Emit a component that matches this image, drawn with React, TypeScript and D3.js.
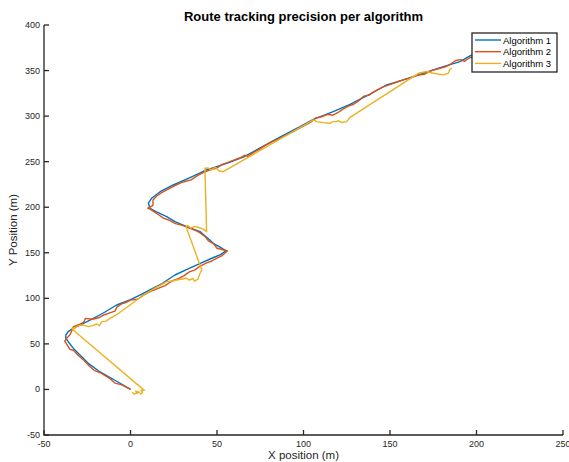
import React from 'react'
import * as d3 from 'd3'

// route samples per algorithm, [x, y] in metres
const algorithm1: [number, number][] = [
  [0, 0], [-8, 9], [-17.6, 19.2], [-24, 28], [-29.2, 37.8], [-33, 45], [-36, 52.4], [-37.5, 57],
  [-37.3, 60], [-36, 63.4], [-33, 67.5], [-29.2, 70.7], [-23.4, 76.2], [-15.7, 83.9], [-8, 92.7],
  [-0.3, 98.2], [6, 104], [12, 110], [18, 116], [25.7, 125.6], [33, 132], [40, 138], [47, 144],
  [52, 148], [55.2, 152], [52, 156], [47.9, 160.4], [44, 167], [40.2, 173.2], [32.5, 178.7],
  [26, 184], [20.9, 189.6], [15, 195], [11.3, 198.8], [10.3, 204.3], [12.2, 209.8], [17.1, 217],
  [24.7, 224.4], [34.4, 232.5], [44, 240.9], [55.6, 248.2], [65.2, 255], [76.8, 267], [86.4, 277],
  [98, 288.4], [105.7, 296.5], [117.2, 304.9], [126.9, 313], [138.4, 324], [148.1, 334.2],
  [157.7, 339.7], [169.3, 347], [180.8, 354.3], [190.5, 359.8], [196.2, 366], [200, 369],
]

const algorithm2: [number, number][] = [
  [0, 0], [-5, 5], [-9, 7], [-12, 12], [-17, 18], [-21, 21], [-24, 26], [-27, 32], [-30, 37],
  [-33, 43], [-35, 44], [-36, 47], [-38, 53], [-37, 56], [-35, 60], [-34, 64], [-33, 69], [-30, 71],
  [-27, 74], [-26, 78], [-22, 77], [-18, 79], [-15, 82], [-12, 84], [-9, 86], [-8, 90], [-5, 94],
  [-2, 96], [0, 98], [4, 99], [8, 104], [12, 108], [16, 111], [20, 114], [24, 119], [28, 122],
  [31, 125], [34, 129], [37, 131], [40, 135], [44, 139], [47, 141], [50, 144], [53, 147], [56, 152],
  [54, 153], [50, 155], [48, 160], [45, 163], [43, 168], [40, 172], [37, 175], [34, 177], [30, 180],
  [26, 182], [22, 186], [19, 188], [16, 192], [12, 197], [10, 199], [13, 202], [13, 208], [15, 212],
  [18, 216], [21, 219], [24, 222], [28, 226], [31, 228], [35, 230], [39, 235], [42, 238], [46, 241],
  [50, 243], [53, 247], [56, 249], [60, 252], [63, 254], [66, 257], [68, 256], [71, 260], [75, 264],
  [78, 268], [82, 272], [86, 275], [90, 279], [94, 283], [98, 287], [101, 290], [104, 293],
  [107, 298], [110, 299], [114, 302], [117, 301], [120, 304], [123, 308], [126, 311], [129, 313],
  [132, 317], [135, 322], [138, 323], [140, 326], [143, 329], [146, 332], [149, 334], [152, 336],
  [155, 338], [158, 340], [162, 342], [166, 345], [170, 346], [174, 350], [178, 352], [182, 354],
  [185, 357], [188, 361], [191, 362], [193, 360], [196, 364], [200, 366],
]

const algorithm3: [number, number][] = [
  [1, -3], [2, -5], [4, -4], [3, -2], [5, -3], [6, -5], [7, -3], [6, -1], [8, -1],
  [-33, 65], [-34, 67], [-32, 68], [-33, 66], [-31, 69], [-29, 70.7], [-26, 70], [-24.4, 68.9],
  [-22, 70], [-19.5, 71.8], [-18, 70], [-16.6, 74.4], [-14, 75], [-11.8, 78.1], [-8, 82],
  [-4.2, 87.2], [0, 93], [3.6, 98.2], [8, 104], [13, 110], [18, 115], [20.9, 118.3], [24, 119],
  [26.7, 120.1], [29, 121], [32.5, 122], [34, 120], [36, 122], [37, 119], [39, 121], [40.2, 127.5],
  [41.2, 131.1], [32.1, 178.7], [33, 180], [35, 177], [37, 179], [39, 178], [42, 176], [44, 173.2],
  [43, 242.7], [45, 243], [47, 241], [49, 244], [51, 240], [53.6, 239], [105.7, 295.8],
  [107.6, 293.9], [111.5, 292.8], [115.3, 292.1], [117, 294], [119.2, 293.9], [120, 295],
  [122, 293], [125, 293.9], [126.9, 298.7], [166.4, 347], [171.2, 349], [175, 347],
  [180.8, 345.2], [183.7, 347], [184.7, 351.4], [185.7, 352.4],
]

const seriesNames = ['Algorithm 1', 'Algorithm 2', 'Algorithm 3']
const seriesColors = ['#0072BD', '#D95319', '#EDB120']
const xTicks = [-50, 0, 50, 100, 150, 200, 250]
const yTicks = [-50, 0, 50, 100, 150, 200, 250, 300, 350, 400]

const W = 569
const H = 462
const font = '"Liberation Sans", Arial, Helvetica, sans-serif'
const axisColor = '#262626'

export default function App() {
  const x = d3.scaleLinear().domain([-50, 250]).range([44, 563])
  const y = d3.scaleLinear().domain([-50, 400]).range([435, 25])
  const line = d3.line<[number, number]>().x(d => x(d[0])).y(d => y(d[1]))
  const routes = [algorithm1, algorithm2, algorithm3]

  return (
    <svg width={W} height={H} style={{ position: 'absolute', left: 0, top: 0, background: '#fff' }} fontFamily={font}>
      <rect width={W} height={H} fill="#fff" />
      {routes.map((r, i) => (
        <path key={i} d={line(r) || ''} fill="none" stroke={seriesColors[i]} strokeWidth={1.4} strokeLinejoin="round" />
      ))}

      {/* axes, box off, ticks inward */}
      <path d={`M${x(-50)},${y(400)}V${y(-50)}H${x(250)}`} fill="none" stroke={axisColor} strokeWidth={1.3} />
      {xTicks.map(t => (
        <g key={'x' + t}>
          <line x1={x(t)} x2={x(t)} y1={y(-50)} y2={y(-50) - 5} stroke={axisColor} strokeWidth={1.3} />
          <text x={x(t)} y={y(-50) + 12} textAnchor="middle" fontSize={9} fill={axisColor}>{t}</text>
        </g>
      ))}
      {yTicks.map(t => (
        <g key={'y' + t}>
          <line x1={x(-50)} x2={x(-50) + 5} y1={y(t)} y2={y(t)} stroke={axisColor} strokeWidth={1.3} />
          <text x={x(-50) - 4} y={y(t) + 3} textAnchor="end" fontSize={9} fill={axisColor}>{t}</text>
        </g>
      ))}

      <text x={303.5} y={21} textAnchor="middle" fontSize={13} fontWeight="bold" fill="#000">
        Route tracking precision per algorithm
      </text>
      <text x={303.5} y={459} textAnchor="middle" fontSize={11.5} fill={axisColor}>X position (m)</text>
      <text transform={`translate(17,230) rotate(-90)`} textAnchor="middle" fontSize={11.5} fill={axisColor}>
        Y Position (m)
      </text>

      {/* legend */}
      <rect x={472} y={33} width={85} height={39} fill="#fff" stroke={axisColor} strokeWidth={1.3} />
      {seriesNames.map((n, i) => (
        <g key={n}>
          <line x1={475} x2={501} y1={40 + i * 11.7} y2={40 + i * 11.7} stroke={seriesColors[i]} strokeWidth={1.4} />
          <text x={503} y={43.5 + i * 11.7} fontSize={9.5} fill="#000">{n}</text>
        </g>
      ))}
    </svg>
  )
}
